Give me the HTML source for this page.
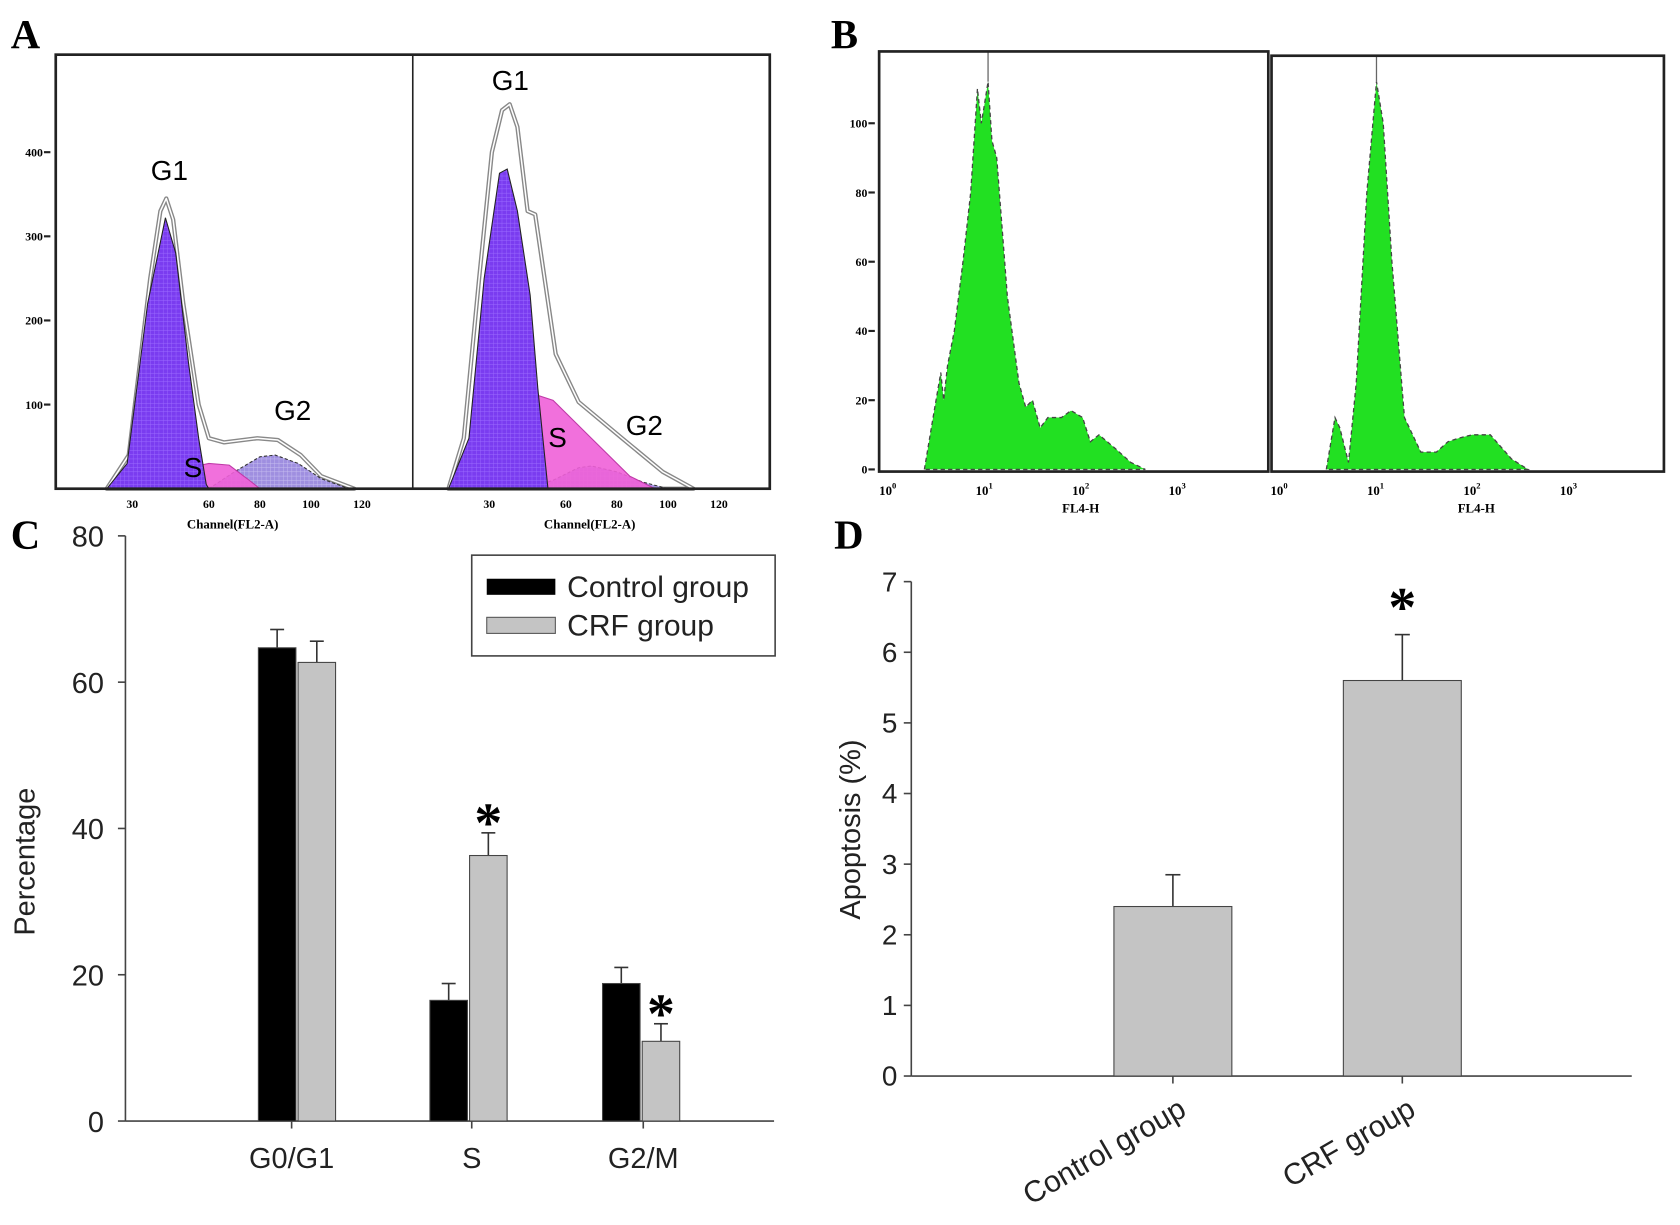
<!DOCTYPE html>
<html><head><meta charset="utf-8">
<style>
html,body{margin:0;padding:0;background:#fff;}
svg{display:block;}
.lt{font-family:"Liberation Serif",serif;font-weight:bold;}
.sn{font-family:"Liberation Sans",sans-serif;}
</style></head>
<body>
<svg id="fig" width="1680" height="1225" viewBox="0 0 1567 1143" preserveAspectRatio="none" xmlns="http://www.w3.org/2000/svg">
<defs>
<pattern id="hatch" width="4" height="4" patternUnits="userSpaceOnUse">
<rect width="4" height="4" fill="#7a3cf0"/><path d="M0 0H4M0 0V4" stroke="#9c6cff" stroke-width="0.8"/>
</pattern>
<pattern id="hatch2" width="4" height="4" patternUnits="userSpaceOnUse">
<rect width="4" height="4" fill="#9f8fe0"/><path d="M0 0H4M0 0V4" stroke="#c8bff0" stroke-width="0.8"/>
</pattern>
</defs>
<g id="root"></g>
</svg>
<script>
// ---------- Panel A data (channel, count) ----------
const aTicksY=[100,200,300,400];
const aTicksX=[30,60,80,100,120];
const aLeftOutlineX=[20,28.6,37,41,43.3,46,50,56,60,66,79,87,96,104,117];
const aLeftOutlineY=[0,40,250,330,345,320,220,100,60,55,60,58,40,15,0];
const aLeftG1X=[20,28,36,43,47,52,56,59,60];
const aLeftG1Y=[0,30,220,322,280,150,60,5,0];
const aLeftSX=[33,45,60,68,75,80];
const aLeftSY=[0,20,30,28,12,0];
const aLeftG2X=[60,70,80,86,95,104,115];
const aLeftG2Y=[0,20,38,40,30,12,0];
const aRightOutlineX=[14,20,26,31,35,38,41,45,48,56,65,82,98,110];
const aRightOutlineY=[0,60,250,400,450,457,430,330,326,160,103,60,20,0];
const aRightG1X=[14,22,28,34,37,41,46,49,53];
const aRightG1Y=[0,60,250,375,380,330,230,120,0];
const aRightSX=[14,25,35,45,55,70,85,95];
const aRightSY=[0,40,90,115,105,60,15,0];
const aRightG2X=[45,55,65,70,80,90,100];
const aRightG2Y=[0,10,25,27,20,8,0];
// ---------- Panel B data (log10 FL4-H, count) ----------
const bTicksY=[0,20,40,60,80,100];
const bTicksX=[0,1,2,3];
const bLeftX=[0.38,0.47,0.55,0.58,0.62,0.69,0.78,0.86,0.93,0.97,1.0,1.04,1.08,1.13,1.24,1.36,1.43,1.5,1.58,1.66,1.8,1.9,2.02,2.1,2.19,2.36,2.52,2.67];
const bLeftY=[0,15,28,20,30,40,60,80,110,100,105,112,95,90,50,25,18,20,12,15,15,17,15,8,10,6,2,0];
const bRightX=[0.49,0.58,0.63,0.72,0.8,0.91,1.01,1.08,1.17,1.3,1.47,1.63,1.75,1.86,2.0,2.19,2.41,2.58];
const bRightY=[0,15,12,2,25,80,112,100,60,15,5,5,8,9,10,10,3,0];
// ---------- Panel C data ----------
const cCategories=["G0/G1","S","G2/M"];
const cControl=[64.7,16.5,18.8];
const cControlErr=[2.5,2.3,2.2];
const cCRF=[62.7,36.3,10.9];
const cCRFErr=[2.9,3.1,2.4];
const cSig=[false,true,true];
const cTicks=[0,20,40,60,80];
// ---------- Panel D data ----------
const dCategories=["Control group","CRF group"];
const dValues=[2.4,5.6];
const dErr=[0.45,0.65];
const dSig=[false,true];
const dTicks=[0,1,2,3,4,5,6,7];

const NS="http://www.w3.org/2000/svg";
const root=document.getElementById('root');
function mk(tag,attrs,parent,text){const e=document.createElementNS(NS,tag);for(const k in attrs)e.setAttribute(k,attrs[k]);if(text!==undefined)e.textContent=text;(parent||root).appendChild(e);return e;}
function poly(xs,ys,sx,sy){return xs.map((x,i)=>sx(x).toFixed(1)+","+sy(ys[i]).toFixed(1)).join(" ");}

[["A",10,45],["B",775,45],["C",10,512],["D",778,512]].forEach(l=>{
  const t=mk('text',{x:l[1],y:l[2],class:'lt','font-size':38},root,l[0]);
  
  
});

// ---------- Panel A ----------
(function(){
  const gA=mk('g',{});
  
  
  const y=v=>456-v*0.785;
  [[52,aLeftOutlineX,aLeftOutlineY,aLeftG1X,aLeftG1Y,aLeftSX,aLeftSY,aLeftG2X,aLeftG2Y,'left'],
   [385,aRightOutlineX,aRightOutlineY,aRightG1X,aRightG1Y,aRightSX,aRightSY,aRightG2X,aRightG2Y,'right']].forEach(p=>{
    const x0=p[0];const x=v=>x0+v*2.38;
    const g=mk('g',{},gA);
    
    
    const o=mk('polygon',{points:poly(p[1],p[2],x,y),fill:'#fff',stroke:'#888','stroke-width':4,'stroke-linejoin':'round'},g);
    
    
    const o2=mk('polyline',{points:poly(p[1],p[2],x,y),fill:'none',stroke:'#fff','stroke-width':1.4,'stroke-linejoin':'round'},g);
    
    
    const g2=mk('polygon',{points:poly(p[7],p[8],x,y),fill:'url(#hatch2)',stroke:'#333','stroke-width':1,'stroke-dasharray':'3,2'},g);
    
    
    const s=mk('polygon',{points:poly(p[5],p[6],x,y),fill:'#f060d8','fill-opacity':0.9,stroke:'#c03aa8','stroke-width':1},g);
    
    
    const g1=mk('polygon',{points:poly(p[3],p[4],x,y),fill:'url(#hatch)',stroke:'#222','stroke-width':1},g);
    
    
    aTicksX.forEach(t=>{
      const tt=mk('text',{x:x(t),y:474,'text-anchor':'middle',class:'lt','font-size':11},g,String(t));
      
      
    });
    const xt=mk('text',{x:x0+165,y:493,'text-anchor':'middle',class:'lt','font-size':12},g,'Channel(FL2-A)');
    
    
  });
  const f=mk('rect',{x:52,y:51,width:666,height:405,fill:'none',stroke:'#222','stroke-width':2.5},gA);
  
  
  const d=mk('line',{x1:385,y1:51,x2:385,y2:456,stroke:'#222','stroke-width':1.5},gA);
  
  
  aTicksY.forEach(t=>{
    const tt=mk('text',{x:40,y:y(t)+4,'text-anchor':'end',class:'lt','font-size':11},gA,String(t));
    
    
    mk('line',{x1:41,x2:47,y1:y(t),y2:y(t),stroke:'#222','stroke-width':2},gA);
  });
  [["G1",158,168],["G2",273,392],["S",180,445],["G1",476,84],["G2",601,406],["S",520,417]].forEach(l=>{
    const t=mk('text',{x:l[1],y:l[2],'text-anchor':'middle',class:'sn','font-size':26},gA,l[0]);
    
    
  });
})();

// ---------- Panel B ----------
(function(){
  const gB=mk('g',{});
  
  
  const y=v=>438-v*3.23;
  [[828,820,1183,48,bLeftX,bLeftY,'left',1008],[1193,1186,1552,52,bRightX,bRightY,'right',1377]].forEach(p=>{
    const x=d=>p[0]+d*90;
    const g=mk('g',{},gB);
    
    
    const fill=mk('polygon',{points:poly(p[4],p[5],x,y),fill:'#22e022',stroke:'#444','stroke-width':1.2,'stroke-dasharray':'4,3'},g);
    
    
    const pk=p[5].indexOf(Math.max(...p[5]));
    mk('line',{x1:x(p[4][pk]),x2:x(p[4][pk]),y1:p[3],y2:y(p[5][pk]),stroke:'#666','stroke-width':1.2},g);
    const fr=mk('rect',{x:p[1],y:p[3],width:p[2]-p[1],height:440-p[3],fill:'none',stroke:'#222','stroke-width':2.5},g);
    
    
    bTicksX.forEach(t=>{
      const tt=mk('text',{x:x(t),y:462,'text-anchor':'middle',class:'lt','font-size':12},g);
      
      
      tt.appendChild(document.createTextNode('10'));
      mk('tspan',{dy:-6,'font-size':8},tt,String(t));
    });
    const xt=mk('text',{x:p[7],y:478,'text-anchor':'middle',class:'lt','font-size':12},g,'FL4-H');
    
    
  });
  bTicksY.forEach(t=>{
    const tt=mk('text',{x:809,y:y(t)+4,'text-anchor':'end',class:'lt','font-size':11},gB,String(t));
    
    
    mk('line',{x1:810,x2:816,y1:y(t),y2:y(t),stroke:'#222','stroke-width':2},gB);
  });
})();

// ---------- Panel C ----------
(function(){
  const gC=mk('g',{});
  
  
  const y=v=>1046-v*6.825;
  const cx=[277,437,598];
  const lx=[272,440,600];
  mk('line',{x1:117,x2:117,y1:500,y2:1046,stroke:'#444','stroke-width':1.5},gC);
  mk('line',{x1:117,x2:722,y1:1046,y2:1046,stroke:'#444','stroke-width':1.5},gC);
  cTicks.forEach(t=>{
    mk('line',{x1:110,x2:117,y1:y(t),y2:y(t),stroke:'#444','stroke-width':1.5},gC);
    const tt=mk('text',{x:97,y:y(t)+10,'text-anchor':'end',class:'sn','font-size':27,fill:'#222'},gC,String(t));
    
    
  });
  cCategories.forEach((c,i)=>{
    mk('line',{x1:lx[i],x2:lx[i],y1:1046,y2:1053,stroke:'#444','stroke-width':1.5},gC);
    const tt=mk('text',{x:lx[i],y:1090,'text-anchor':'middle',class:'sn','font-size':27,fill:'#222'},gC,c);
    
    
    [[cControl,cControlErr,-36,'#000','control'],[cCRF,cCRFErr,1,'#c4c4c4','crf']].forEach(s=>{
      const v=s[0][i],e=s[1][i],x0=cx[i]+s[2];
      mk('line',{x1:x0+17.5,x2:x0+17.5,y1:y(v),y2:y(v+e),stroke:'#333','stroke-width':1.5},gC);
      mk('line',{x1:x0+11,x2:x0+24,y1:y(v+e),y2:y(v+e),stroke:'#333','stroke-width':1.5},gC);
      const b=mk('rect',{x:x0,y:y(v),width:35,height:y(0)-y(v),fill:s[3],stroke:'#444','stroke-width':1},gC);
      
      
    });
    if(cSig[i]){
      const st=mk('text',{x:cx[i]+18.5,y:y(cCRF[i]+cCRFErr[i])+8,'text-anchor':'middle',class:'lt','font-size':52},gC,'*');
      
      
    }
  });
  const yl=mk('text',{x:0,y:0,transform:'translate(32,804) rotate(-90)','text-anchor':'middle',class:'sn','font-size':27,fill:'#222'},gC,'Percentage');
  
  
  const lg=mk('g',{},gC);
  
  
  mk('rect',{x:440,y:518,width:283,height:94,fill:'#fff',stroke:'#444','stroke-width':1.5},lg);
  mk('rect',{x:454,y:540,width:64,height:15,fill:'#000'},lg);
  mk('rect',{x:454,y:576,width:64,height:15,fill:'#c4c4c4',stroke:'#555'},lg);
  const l1=mk('text',{x:529,y:557,class:'sn','font-size':28,fill:'#222'},lg,'Control group');
  
  
  const l2=mk('text',{x:529,y:593,class:'sn','font-size':28,fill:'#222'},lg,'CRF group');
  
  
})();

// ---------- Panel D ----------
(function(){
  const gD=mk('g',{});
  
  
  const y=v=>1004-v*65.9;
  const cx=[1094,1308];
  mk('line',{x1:850,x2:850,y1:y(7),y2:1004,stroke:'#444','stroke-width':1.5},gD);
  mk('line',{x1:850,x2:1522,y1:1004,y2:1004,stroke:'#444','stroke-width':1.5},gD);
  dTicks.forEach(t=>{
    mk('line',{x1:843,x2:850,y1:y(t),y2:y(t),stroke:'#444','stroke-width':1.5},gD);
    const tt=mk('text',{x:837,y:y(t)+9,'text-anchor':'end',class:'sn','font-size':26,fill:'#222'},gD,String(t));
    
    
  });
  dCategories.forEach((c,i)=>{
    const v=dValues[i],e=dErr[i];
    mk('line',{x1:cx[i],x2:cx[i],y1:y(v),y2:y(v+e),stroke:'#333','stroke-width':1.5},gD);
    mk('line',{x1:cx[i]-7,x2:cx[i]+7,y1:y(v+e),y2:y(v+e),stroke:'#333','stroke-width':1.5},gD);
    const b=mk('rect',{x:cx[i]-55,y:y(v),width:110,height:y(0)-y(v),fill:'#c4c4c4',stroke:'#444','stroke-width':1},gD);
    
    
    mk('line',{x1:cx[i],x2:cx[i],y1:1004,y2:1011,stroke:'#444','stroke-width':1.5},gD);
    const tt=mk('text',{x:0,y:0,transform:'translate('+(cx[i]+14)+',1040) rotate(-30)','text-anchor':'end',class:'sn','font-size':28,fill:'#222'},gD,c);
    
    
    if(dSig[i]){
      const st=mk('text',{x:cx[i],y:y(v+e)-8,'text-anchor':'middle',class:'lt','font-size':52},gD,'*');
      
      
    }
  });
  const yl=mk('text',{x:0,y:0,transform:'translate(802,774) rotate(-90)','text-anchor':'middle',class:'sn','font-size':27,fill:'#222'},gD,'Apoptosis (%)');
  
  
})();
</script>
</body></html>
